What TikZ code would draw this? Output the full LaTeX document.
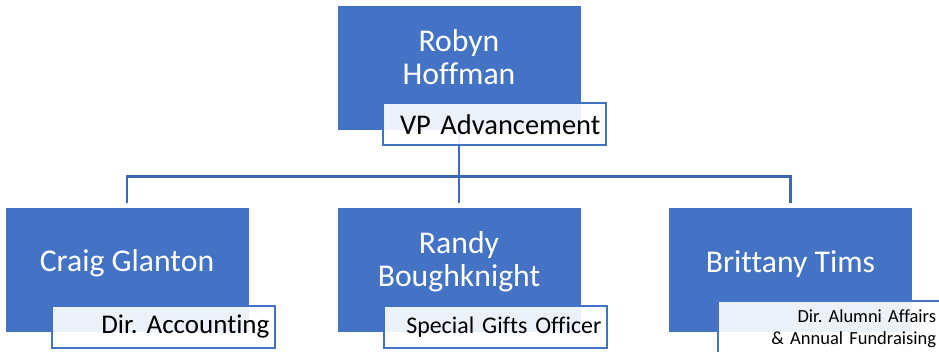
\documentclass[tikz,border=0pt]{standalone}
\usepackage{fontspec}
\setmainfont{Carlito}[Ligatures=CommonOff]
\frenchspacing
\usetikzlibrary{positioning,calc}
\definecolor{blu}{HTML}{4472C4}
\definecolor{bluscuro}{HTML}{3F68B4}
\pgfdeclarelayer{sfondo}
\pgfsetlayers{sfondo,main}
\tikzstyle{persona} = [rectangle, fill=blu, draw=white, line width=0.8pt, minimum width=244pt, minimum height=125pt]
\tikzstyle{nome} = [text=white, align=center, inner sep=0pt, font=\fontsize{31.7}{33}\selectfont]
\tikzstyle{ruolo} = [rectangle, draw=blu, line width=2pt, fill=white, fill opacity=0.9, text opacity=1, text=black, minimum height=42pt, inner xsep=6pt, text width=211pt, align=right, anchor=south east]
\tikzstyle{linea} = [draw=bluscuro, line width=2.2pt]

\begin{document}
\begin{tikzpicture}[x=1pt,y=-1pt]
						\useasboundingbox (0,0) rectangle (939,351);
						\clip (0,0) rectangle (939,351);
						\node (robyn) at (459,67.5) [persona] {};
						\node (craig) at (127,270) [persona] {};
						\node (randy) at (459,270) [persona] {};
						\node (brittany) at (790.5,270) [persona] {};
						\node[nome] (nrobyn) at ($(robyn.north)+(0,53)$) {Robyn\\Hoffman};
						\node[nome] (ncraig) at ($(craig.north)+(0,56)$) {Craig Glanton};
						\node[nome] (nrandy) at ($(randy.north)+(0,55)$) {Randy\\Boughknight};
						\node[nome] (nbrittany) at ($(brittany.north)+(0,57)$) {Brittany Tims};
						\node[ruolo, font=\fontsize{28.5}{32}\selectfont] (rrobyn) at ($(robyn.south east)+(26,16)$) {VP Advancement};
						\node[ruolo, font=\fontsize{27}{32}\selectfont] (rcraig) at ($(craig.south east)+(27,16)$) {Dir. Accounting};
						\node[ruolo, font=\fontsize{23.9}{28}\selectfont] (rrandy) at ($(randy.south east)+(27,16)$) {Special Gifts Officer};
						\node[ruolo, anchor=north west, minimum height=0pt, inner ysep=8pt, text width=212pt, font=\fontsize{18.5}{22}\selectfont] (rbrittany) at ($(brittany.south west)+(49,-32.5)$) {Dir. Alumni Affairs\\\& Annual Fundraising};
						\begin{pgfonlayer}{sfondo}
						\coordinate (snodo) at ($(robyn.south)+(0,46)$);
						\draw[linea] (robyn.south) -- (snodo);
						\draw[linea, shorten >=4pt] (snodo) -| (craig.north);
						\draw[linea, shorten >=4pt] (snodo) -- (randy.north);
						\draw[linea, shorten >=4pt] (snodo) -| (brittany.north);
						\end{pgfonlayer}
					\end{tikzpicture}
\end{document}
